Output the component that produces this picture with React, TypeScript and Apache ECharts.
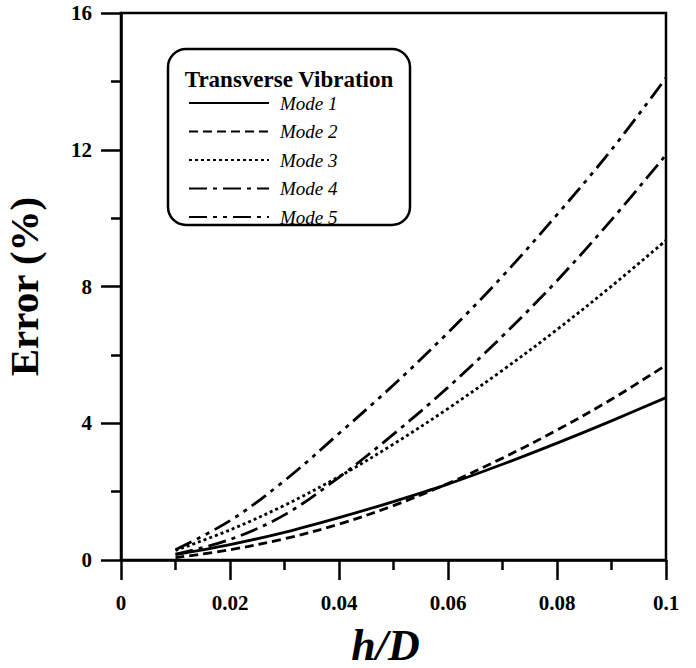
import React, { useEffect, useRef } from "react";
import * as echarts from "echarts";

const hD = [0.01, 0.02, 0.03, 0.04, 0.05, 0.06, 0.07, 0.08, 0.09, 0.1];
const mode1 = [0.16, 0.45, 0.81, 1.24, 1.71, 2.22, 2.8, 3.42, 4.07, 4.75];
const mode2 = [0.07, 0.3, 0.62, 1.05, 1.59, 2.24, 2.98, 3.8, 4.7, 5.7];
const mode3 = [0.28, 0.88, 1.6, 2.44, 3.39, 4.43, 5.55, 6.74, 8.01, 9.35];
const mode4 = [0.17, 0.6, 1.32, 2.42, 3.68, 5.05, 6.55, 8.17, 9.95, 11.85];
const mode5 = [0.3, 1.15, 2.32, 3.7, 5.12, 6.65, 8.3, 10.1, 12.0, 14.1];

const seriesNames = ["Mode 1", "Mode 2", "Mode 3", "Mode 4", "Mode 5"];
const seriesData = [mode1, mode2, mode3, mode4, mode5];
const dashTypes: any[] = ["solid", [9, 5], [3, 3], [18, 6, 4, 6], [18, 6, 4, 6, 4, 6]];

const xTickLabels: Record<string, string> = {
  "0": "0",
  "0.02": "0.02",
  "0.04": "0.04",
  "0.06": "0.06",
  "0.08": "0.08",
  "0.1": "0.1",
};

const FONT = "Liberation Serif";

export default function App() {
  const ref = useRef<HTMLDivElement>(null);
  useEffect(() => {
    if (!ref.current) return;
    const chart = echarts.init(ref.current, null, { renderer: "svg" });
    const axisStyle = { lineStyle: { color: "#000", width: 2.5 } };
    chart.setOption({
      animation: false,
      backgroundColor: "#fff",
      grid: {
        left: 121,
        right: 30,
        top: 13,
        bottom: 108,
        containLabel: false,
        outerBoundsMode: "none",
        show: true,
        borderColor: "#000",
        borderWidth: 2.5,
      },
      xAxis: {
        type: "value",
        min: 0,
        max: 0.1,
        interval: 0.02,
        name: "h/D",
        nameLocation: "middle",
        nameGap: 63,
        nameTextStyle: {
          fontFamily: FONT,
          fontSize: 44,
          fontWeight: "bold",
          fontStyle: "italic",
          color: "#000",
          padding: [0, 16, 0, 0],
        },
        axisLine: { show: true, ...axisStyle },
        axisTick: { show: true, length: 20, ...axisStyle },
        minorTick: { show: true, splitNumber: 2, length: 10, ...axisStyle },
        splitLine: { show: false },
        axisLabel: {
          margin: 32,
          fontFamily: FONT,
          fontSize: 21,
          fontWeight: "bold",
          color: "#000",
          formatter: (v: number) => xTickLabels[String(+v.toFixed(2))] ?? String(+v.toFixed(2)),
        },
      },
      yAxis: {
        type: "value",
        min: 0,
        max: 16,
        interval: 4,
        name: "Error (%)",
        nameLocation: "middle",
        nameGap: 77,
        nameTextStyle: {
          fontFamily: FONT,
          fontSize: 41,
          fontWeight: "bold",
          color: "#000",
        },
        axisLine: { show: true, ...axisStyle },
        axisTick: { show: true, length: 20, ...axisStyle },
        minorTick: { show: true, splitNumber: 2, length: 10, ...axisStyle },
        splitLine: { show: false },
        axisLabel: {
          margin: 29,
          fontFamily: FONT,
          fontSize: 21,
          fontWeight: "bold",
          color: "#000",
        },
      },
      legend: {
        orient: "vertical",
        left: 188,
        top: 93.5,
        padding: 0,
        itemWidth: 80,
        itemHeight: 16,
        itemGap: 9.5,
        data: seriesNames,
        itemStyle: { opacity: 0, color: "rgba(0,0,0,0)", borderWidth: 0 },
        textStyle: {
          fontFamily: FONT,
          fontSize: 19,
          lineHeight: 16,
          fontStyle: "italic",
          color: "#000",
          padding: [0, 0, 0, 6],
        },
      },
      graphic: [
        {
          type: "rect",
          shape: { x: 168, y: 49, width: 242, height: 176, r: 18 },
          style: { fill: "none", stroke: "#000", lineWidth: 2.5 },
        },
        {
          type: "text",
          x: 289,
          y: 79,
          style: {
            text: "Transverse Vibration",
            fontFamily: FONT,
            fontSize: 23,
            fontWeight: "bold",
            fill: "#000",
            align: "center",
            verticalAlign: "middle",
          },
        },
      ],
      series: seriesNames.map((name, i) => ({
        name,
        type: "line",
        smooth: 0.35,
        symbol: "none",
        data: hD.map((x, j) => [x, seriesData[i][j]]),
        lineStyle: { color: "#000", width: 2.8, type: dashTypes[i] },
        itemStyle: { color: "rgba(0,0,0,0)", borderWidth: 0 },
      })),
    });
    return () => chart.dispose();
  }, []);
  return (
    <div
      ref={ref}
      style={{ position: "fixed", left: 0, top: 0, width: 696, height: 668, background: "#fff" }}
    />
  );
}
